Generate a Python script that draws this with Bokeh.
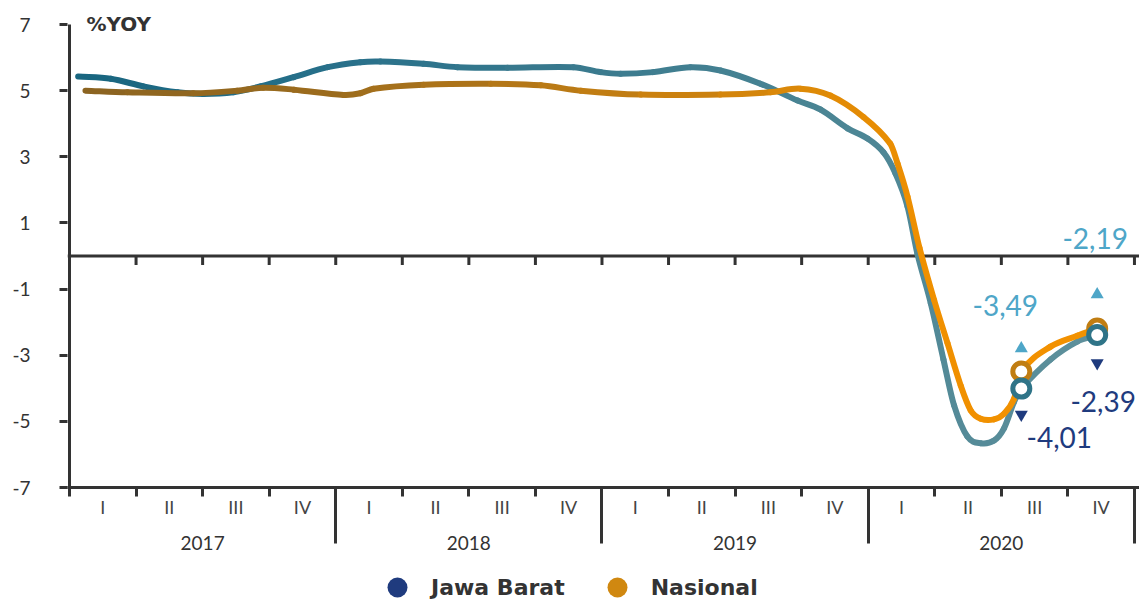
from bokeh.plotting import figure
from bokeh.layouts import column
from bokeh.models import (Range1d, LinearAxis, FixedTicker, Span, Label, Legend,
                          LegendItem, ColumnDataSource)
from bokeh.core.properties import value
from bokeh.embed import file_html
from bokeh.resources import INLINE

# ---------------- data ----------------
years = ["2017", "2018", "2019", "2020"]
quarters = ["I", "II", "III", "IV"]
y_ticks = [7, 5, 3, 1, -1, -3, -5, -7]

# positions along the time axis in quarter units (0 = start of 2017 Q1)
jabar_x = [0.13, 0.62, 1.11, 1.62, 2.01, 2.46, 2.87, 3.37, 3.88, 4.37, 4.67, 5.32,
           5.83, 6.58, 7.57, 7.98, 8.28, 8.77, 9.33, 9.78, 10.38, 10.94, 11.28,
           11.69, 11.99, 12.23, 12.41, 12.59, 12.74, 12.94, 13.13, 13.29, 13.49,
           13.69, 13.89, 14.04, 14.19, 14.30, 14.74, 15.14, 15.44]
jabar_y = [5.43, 5.36, 5.13, 4.95, 4.90, 4.95, 5.13, 5.41, 5.71, 5.86, 5.88, 5.81,
           5.71, 5.69, 5.71, 5.56, 5.51, 5.56, 5.71, 5.61, 5.21, 4.70, 4.43,
           3.86, 3.55, 3.13, 2.49, 1.50, 0.06, -1.43, -3.13, -4.52, -5.46,
           -5.66, -5.58, -5.21, -4.42, -4.01, -3.13, -2.59, -2.39]

nas_x = [0.24, 0.87, 1.86, 2.52, 2.91, 3.37, 4.12, 4.37, 4.57, 5.32, 6.33, 7.08,
         7.68, 8.58, 9.78, 10.53, 10.98, 11.43, 11.93, 12.33, 12.44, 12.59, 12.77,
         12.99, 13.19, 13.39, 13.54, 13.69, 13.89, 14.04, 14.19, 14.30, 14.74,
         15.14, 15.44]
nas_y = [5.00, 4.95, 4.92, 5.00, 5.09, 5.03, 4.87, 4.92, 5.06, 5.18, 5.21, 5.16,
         5.00, 4.88, 4.88, 4.95, 5.06, 4.85, 4.20, 3.40, 2.80, 1.80, 0.25,
         -1.33, -2.63, -3.92, -4.67, -4.92, -4.94, -4.77, -4.32, -3.49, -2.74,
         -2.41, -2.19]

# highlighted points (2020 Q3, 2020 Q4)
mark_x = [14.30, 15.44]
jabar_mark = [-4.01, -2.39]
nas_mark = [-3.49, -2.19]

series_names = ["Jawa Barat", "Nasional"]

# ---------------- style ----------------
TXT = "#333333"
NAVY = "#1f3b7e"
LBLUE = "#4ea6c8"
jabar_stops = [(0, "#17657f"), (4, "#28708a"), (8, "#3b7b8e"), (12, "#4d8695"), (16, "#62929d")]
nas_stops = [(0, "#8a6322"), (4, "#9c6c1d"), (8, "#c07c14"), (11, "#dc8908"), (13, "#f09000"), (16, "#f39200")]

MAIN_H = 562
FRAME_TOP, FRAME_BOTTOM = 10, 487
LEFT = 67
PX_PER_Q = 66.56
X_START = -(69 - LEFT) / PX_PER_Q
X_END = X_START + (1139 - LEFT) / PX_PER_Q
PX_PER_UNIT = (487 - 24) / 14.0
Y_TOP = 7 + (24 - FRAME_TOP) / PX_PER_UNIT


def grad(stops, x):
    for (x0, c0), (x1, c1) in zip(stops[:-1], stops[1:]):
        if x <= x1 or (x1 == stops[-1][0]):
            t = min(max((x - x0) / (x1 - x0), 0), 1)
            a = [int(c0[i:i + 2], 16) for i in (1, 3, 5)]
            b = [int(c1[i:i + 2], 16) for i in (1, 3, 5)]
            return "#%02x%02x%02x" % tuple(round(a[k] + (b[k] - a[k]) * t) for k in range(3))
    return stops[-1][1]


def smooth_source(xs, ys, stops):
    """Cubic (Hermite) bezier pieces through the points, one colour per piece."""
    n = len(xs)
    m = []
    for i in range(n):
        a, b = max(i - 1, 0), min(i + 1, n - 1)
        m.append((ys[b] - ys[a]) / (xs[b] - xs[a]))
    d = dict(x0=[], y0=[], x1=[], y1=[], cx0=[], cy0=[], cx1=[], cy1=[], c=[])
    for i in range(n - 1):
        h = xs[i + 1] - xs[i]
        d["x0"].append(xs[i]); d["y0"].append(ys[i])
        d["x1"].append(xs[i + 1]); d["y1"].append(ys[i + 1])
        d["cx0"].append(xs[i] + h / 3); d["cy0"].append(ys[i] + m[i] * h / 3)
        d["cx1"].append(xs[i + 1] - h / 3); d["cy1"].append(ys[i + 1] - m[i + 1] * h / 3)
        d["c"].append(grad(stops, (xs[i] + xs[i + 1]) / 2))
    return ColumnDataSource(d)


p = figure(width=1139, height=MAIN_H, x_range=Range1d(X_START, X_END),
           y_range=Range1d(-7, Y_TOP),
           output_backend="svg", toolbar_location=None, x_axis_location=None,
           min_border_left=LEFT, min_border_right=0, min_border_top=FRAME_TOP,
           min_border_bottom=MAIN_H - FRAME_BOTTOM)
p.outline_line_color = None
p.grid.visible = False
p.background_fill_color = "white"

# y axis (ticks + labels; its line is drawn as a segment at x = 0)
ya = p.yaxis[0]
ya.ticker = FixedTicker(ticks=y_ticks)
ya.major_label_overrides = {t: str(t) for t in y_ticks}
ya.axis_line_color = None
ya.major_tick_line_width = 3
ya.major_tick_line_color = TXT
ya.major_tick_out = 8
ya.major_tick_in = 0
ya.minor_tick_out = 0
ya.minor_tick_in = 0
ya.major_label_standoff = 29
ya.major_label_text_align = "right"
ya.major_label_text_font = "Lato"
ya.major_label_text_font_size = "19px"
ya.major_label_text_color = TXT
p.segment(x0=[0], x1=[0], y0=[-7], y1=[7], line_color=TXT, line_width=3)

# quarter axis
n_q = len(years) * len(quarters)
q_centers = [i + 0.5 for i in range(n_q)]
q_over = {c: quarters[i % 4] for i, c in enumerate(q_centers)}
xa = LinearAxis(ticker=FixedTicker(ticks=q_centers, minor_ticks=list(range(n_q + 1))),
                major_label_overrides=q_over)
xa.axis_line_width = 3
xa.axis_line_color = TXT
xa.major_tick_out = 0
xa.major_tick_in = 0
xa.minor_tick_out = 9
xa.minor_tick_in = 0
xa.minor_tick_line_width = 3
xa.minor_tick_line_color = TXT
xa.major_label_standoff = -1
xa.major_label_text_font = "Lato"
xa.major_label_text_font_size = "18px"
xa.major_label_text_color = "#444444"
p.add_layout(xa, "below")

# year axis
y_centers = [4 * i + 2 for i in range(len(years))]
y_over = {c: years[i] for i, c in enumerate(y_centers)}
xb = LinearAxis(ticker=FixedTicker(ticks=y_centers, minor_ticks=[4 * (i + 1) for i in range(len(years))]),
                major_label_overrides=y_over)
xb.axis_line_color = None
xb.major_tick_out = 0
xb.major_tick_in = 0
xb.minor_tick_in = 33
xb.minor_tick_out = 23
xb.minor_tick_line_width = 3
xb.minor_tick_line_color = TXT
xb.major_label_standoff = -8
xb.major_label_text_font = "Lato"
xb.major_label_text_font_size = "19px"
xb.major_label_text_color = TXT
p.add_layout(xb, "below")

# zero line with ticks
p.add_layout(Span(location=0, dimension="width", line_color=TXT, line_width=3, level="underlay"))
zt = list(range(1, n_q + 1))
p.segment(x0=zt, x1=zt, y0=[0] * len(zt), y1=[-9 / PX_PER_UNIT] * len(zt),
          line_color=TXT, line_width=3)

# smoothed lines with colour gradient
for xs, ys, st in ((jabar_x, jabar_y, jabar_stops), (nas_x, nas_y, nas_stops)):
    p.bezier("x0", "y0", "x1", "y1", "cx0", "cy0", "cx1", "cy1",
             source=smooth_source(xs, ys, st), line_color="c", line_width=6,
             line_cap="round")

# highlighted points
p.scatter(mark_x, nas_mark, marker="circle", size=17, fill_color="white",
          line_color="#c07d12", line_width=5)
p.scatter(mark_x, jabar_mark, marker="circle", size=17, fill_color="white",
          line_color="#2f7488", line_width=5)

# triangles
up_off = [23, 34]
dn_off = [26, 28]
p.scatter(mark_x, [v + o / PX_PER_UNIT for v, o in zip(nas_mark, up_off)],
          marker="triangle", size=13, fill_color=LBLUE, line_color=None)
p.scatter(mark_x, [v - o / PX_PER_UNIT for v, o in zip(jabar_mark, dn_off)],
          marker="inverted_triangle", size=13, fill_color=NAVY, line_color=None)


# value labels
def fmt(v):
    return ("%.2f" % v).replace(".", ",")


nas_lab_off = [(-16, -66), (-2, -90)]
jab_lab_off = [(38, 49), (6, 66)]
p.text(x=[x + o[0] / PX_PER_Q for x, o in zip(mark_x, nas_lab_off)],
       y=[v - o[1] / PX_PER_UNIT for v, o in zip(nas_mark, nas_lab_off)],
       text=[fmt(v) for v in nas_mark], text_align="center", text_baseline="middle",
       text_font=value("Lato"), text_font_size="28px", text_color=LBLUE)
p.text(x=[x + o[0] / PX_PER_Q for x, o in zip(mark_x, jab_lab_off)],
       y=[v - o[1] / PX_PER_UNIT for v, o in zip(jabar_mark, jab_lab_off)],
       text=[fmt(v) for v in jabar_mark], text_align="center", text_baseline="middle",
       text_font=value("Lato"), text_font_size="28px", text_color=NAVY)

# unit label
p.add_layout(Label(x=17 / PX_PER_Q, y=7 + 1 / PX_PER_UNIT, text="%YOY", text_font="DejaVu Sans",
                   text_font_style="bold", text_font_size="20px", text_color=TXT,
                   text_baseline="alphabetic"))

# ---------------- legend strip ----------------
lg = figure(width=1139, height=601 - MAIN_H, x_range=Range1d(0, 1), y_range=Range1d(0, 1),
            output_backend="svg", toolbar_location=None, min_border=0,
            x_axis_location=None, y_axis_location=None)
lg.outline_line_color = None
lg.grid.visible = False
lj = lg.scatter(x=[5], y=[5], marker="circle", fill_color=NAVY, line_color=None)
ln = lg.scatter(x=[5], y=[5], marker="circle", fill_color="#d08810", line_color=None)
legend = Legend(items=[LegendItem(label=series_names[0], renderers=[lj]),
                       LegendItem(label=series_names[1], renderers=[ln])],
                orientation="horizontal", location=(372 - LEFT, -11),
                glyph_width=50, glyph_height=50, label_standoff=9, spacing=27,
                padding=0, margin=0, border_line_color=None, background_fill_alpha=0,
                label_text_font="DejaVu Sans", label_text_font_style="bold",
                label_text_font_size="22px", label_text_color=TXT)
lg.add_layout(legend, "center")

open("out.html", "w").write(file_html(column(p, lg, spacing=0), INLINE))
